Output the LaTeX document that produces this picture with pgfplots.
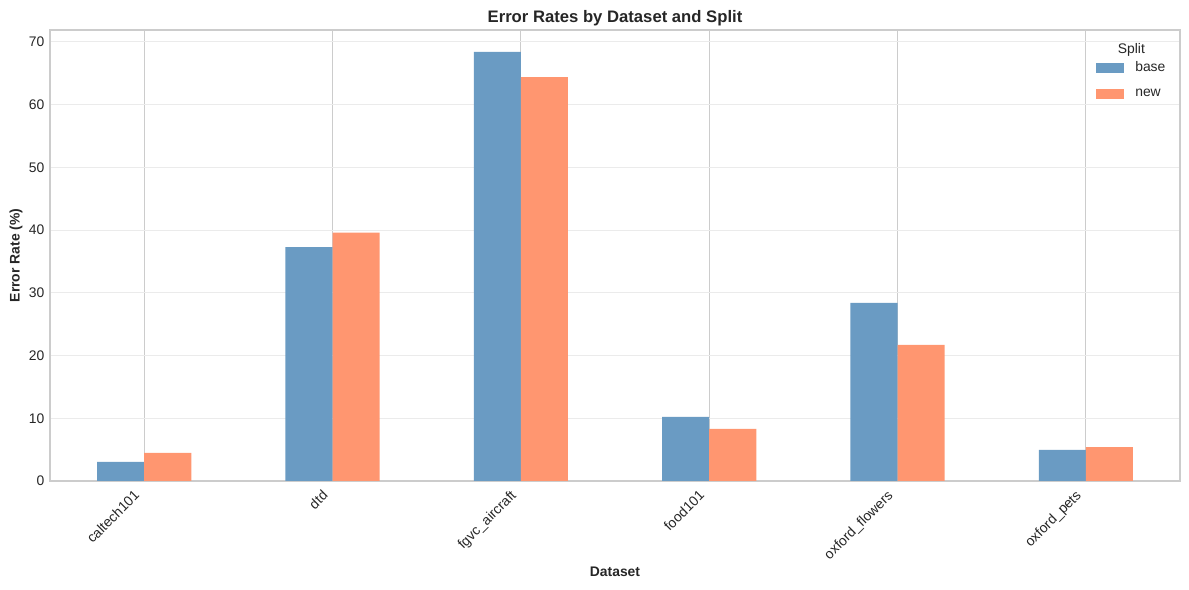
\documentclass[border=0pt]{standalone}
\usepackage{pgfplots}
\pgfplotsset{compat=1.18}
\usepackage{fontspec}
\setmainfont{Liberation Sans}
\definecolor{basec}{RGB}{106,155,195}
\definecolor{newc}{RGB}{255,150,112}
\definecolor{vgrid}{RGB}{204,204,204}
\definecolor{hgrid}{RGB}{235,235,235}
\definecolor{spine}{RGB}{204,204,204}
\definecolor{txt}{RGB}{38,38,38}
\begin{document}
\begin{tikzpicture}
\begin{axis}[
  scale only axis, width=813.6pt, height=324.7pt,
  xmin=-0.5, xmax=5.5, ymin=0, ymax=71.9,
  xtick={0,1,2,3,4,5},
  xticklabels={caltech101,dtd,fgvc\_aircraft,food101,oxford\_flowers,oxford\_pets},
  ytick={0,10,20,30,40,50,60,70},
  /pgf/number format/assume math mode=true,
  major tick length=0pt,
  xmajorgrids, ymajorgrids,
  x grid style={vgrid, line width=0.8pt},
  y grid style={hgrid, line width=0.8pt},
  axis line style={spine, line width=0.9pt},
  ticklabel style={font=\fontsize{10}{12}\selectfont, text=txt},
  xticklabel style={xshift=-8pt, yshift=-4.3pt, rotate=45, anchor=north east, inner sep=1pt},
  yticklabel style={xshift=-0.5pt},
  title={\bfseries Error Rates by Dataset and Split},
  every axis title/.style={at={(axis description cs:0.5,1)}, anchor=center, yshift=8.3pt, font=\fontsize{12}{14}\selectfont, text=txt},
  xlabel={\bfseries Dataset},
  xlabel style={at={(axis description cs:0.5,0)}, anchor=center, yshift=-65.5pt, font=\fontsize{10}{12}\selectfont, text=txt},
  ylabel={\bfseries Error Rate (\%)},
  ylabel style={at={(axis description cs:-0.0301,0.5)}, anchor=center, font=\fontsize{10}{12}\selectfont, text=txt},
  legend style={draw=none, fill=none, at={(rel axis cs:0.991,0.94)}, anchor=north east,
    font=\fontsize{10}{12}\selectfont, text=txt, row sep=7.3pt, inner sep=1pt},
  legend cell align=left,
  legend image code/.code={\path[#1, draw=none] (0pt,-3.6pt) rectangle (20pt,3.6pt); \path (26pt,0pt);},
]
\addplot[ybar, bar width=0.25, bar shift=-0.125, fill=basec, draw=none]
  coordinates {(0,3.03) (1,37.3) (2,68.4) (3,10.2) (4,28.4) (5,4.95)};
\addlegendentry{base}
\addplot[ybar, bar width=0.25, bar shift=0.125, fill=newc, draw=none]
  coordinates {(0,4.47) (1,39.6) (2,64.4) (3,8.3) (4,21.7) (5,5.4)};
\addlegendentry{new}
\node[font=\fontsize{10}{12}\selectfont, text=txt] at (rel axis cs:0.957,0.955) {Split};
\end{axis}
\pgfresetboundingbox
\path[use as bounding box] ([xshift=-36pt,yshift=-78.48pt]current axis.south west) rectangle ([xshift=6.48pt,yshift=21.6pt]current axis.north east);
\end{tikzpicture}
\end{document}
